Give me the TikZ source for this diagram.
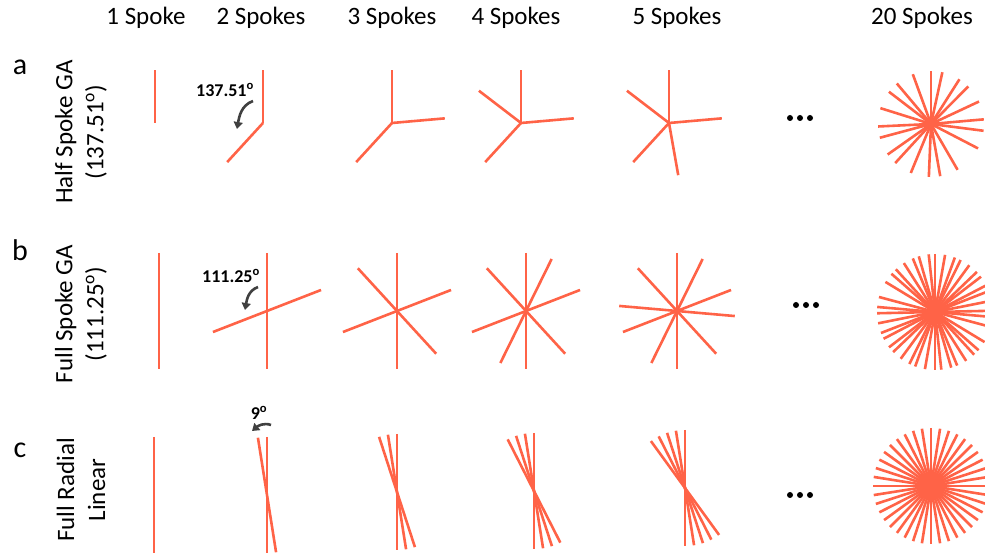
\documentclass[tikz,border=0pt]{standalone}
\usepackage{fontspec}
\setmainfont{Carlito}
\usetikzlibrary{arrows.meta,calc}
\definecolor{spokecol}{RGB}{255,99,71}
\definecolor{arrowcol}{RGB}{64,64,64}
\tikzset{
  spoke/.style={draw=spokecol, line width=2.6pt},
  headtxt/.style={font=\fontsize{25}{30}\selectfont, inner sep=0pt, anchor=center},
  rowletter/.style={font=\fontsize{30}{34}\selectfont, inner sep=0pt},
  rowlabel/.style={font=\fontsize{25}{31}\selectfont, rotate=90, align=center, inner sep=0pt},
  angtxt/.style={font=\bfseries\fontsize{18}{20}\selectfont, inner sep=0pt},
  rotarrow/.style={draw=arrowcol, line width=2.6pt, -{Triangle[length=7pt,width=9pt]}},
  dotmark/.style={fill=black, circle, inner sep=0pt, minimum size=6pt},
}
\begin{document}
\begin{tikzpicture}[x=1pt,y=1pt]
\useasboundingbox (0,0) rectangle (985,554);
% headers
\node[headtxt] (h1) at (146,536) {1 Spoke};
\node[headtxt] (h2) at (261,536) {2 Spokes};
\node[headtxt] (h3) at (392,536) {3 Spokes};
\node[headtxt] (h4) at (516,536) {4 Spokes};
\node[headtxt] (h5) at (677,536) {5 Spokes};
\node[headtxt] (h20) at (922,536) {20 Spokes};
% row letters
\node[rowletter] (la) at (20,487) {a};
\node[rowletter] (lb) at (20,304) {b};
\node[rowletter] (lc) at (20,104) {c};
% row labels
\node[rowlabel] (ra) at (81,422) {Half Spoke GA\\(137.51\textsuperscript{o})};
\node[rowlabel] (rb) at (81,240) {Full Spoke GA\\(111.25\textsuperscript{o})};
\node[rowlabel] (rc) at (81,64) {Full Radial\\Linear};
% row a: half spokes, golden angle 137.51
\foreach \x/\y/\n [count=\k] in {155/431/1, 263/431/2, 392/431/3, 521/431/4, 669/431/5, 931/430/20} {
  \coordinate (ca\k) at (\x,\y);
  \foreach \i in {1,...,\n} {
    \pgfmathsetmacro\ang{90+137.51*(\i-1)}
    \draw[spoke] (ca\k) -- ++(\ang:53pt);
  }
}
% row b: full spokes, 111.25
\foreach \x/\y/\n [count=\k] in {159/243/1, 267/243/2, 397/243/3, 526/243/4, 677/243/5, 935/242/20} {
  \coordinate (cb\k) at (\x,\y);
  \foreach \i in {1,...,\n} {
    \pgfmathsetmacro\ang{90+111.25*(\i-1)}
    \draw[spoke] (cb\k) ++(\ang:58pt) -- ++(\ang+180:116pt);
  }
}
% row c: full radial linear, 9 deg
\foreach \x/\y/\n [count=\k] in {154/59/1, 267/59/2, 397/62/3, 534/63/4, 685/66/5, 931/68/20} {
  \coordinate (cc\k) at (\x,\y);
  \foreach \i in {1,...,\n} {
    \pgfmathsetmacro\ang{90+9*(\i-1)}
    \draw[spoke] (cc\k) ++(\ang:58pt) -- ++(\ang+180:116pt);
  }
}
% angle annotations
\node[angtxt] (ta) at (225,464) {137.51\textsuperscript{o}};
\coordinate (aas) at (253,453);
\coordinate (aae) at (237,425);
\draw[rotarrow] (aas) to[out=200,in=80] (aae);
\node[angtxt] (tb) at (231,278) {111.25\textsuperscript{o}};
\coordinate (abs) at (258,267);
\coordinate (abe) at (245,244);
\draw[rotarrow] (abs) to[out=200,in=80] (abe);
\node[angtxt] (tc) at (259,141) {9\textsuperscript{o}};
\coordinate (acs) at (271,129);
\coordinate (ace) at (252,123);
\draw[rotarrow] (acs) to[out=160,in=40] (ace);
% ellipsis dots
\foreach \x/\y [count=\r] in {800/436, 806/249, 800/59} {
  \foreach \d in {-10,0,10} \node[dotmark] at (\x+\d,\y) {};
}
\end{tikzpicture}
\end{document}
